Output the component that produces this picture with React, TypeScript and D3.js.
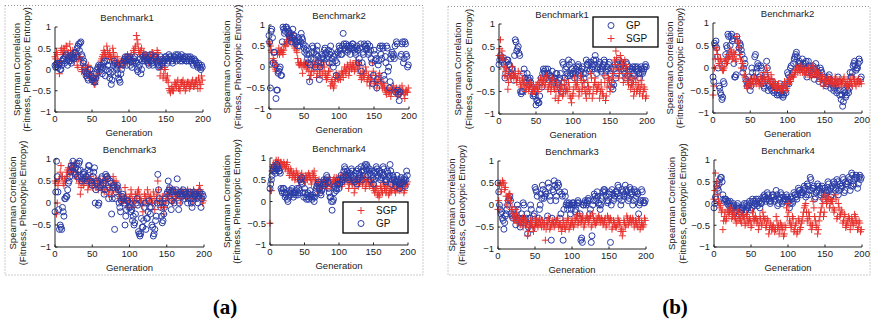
import React from "react";
import * as d3 from "d3";

// ---------- DATA ----------
const generations = d3.range(0, 200);
const xTicks = [0, 50, 100, 150, 200];
const yTicks = [-1, -0.5, 0, 0.5, 1];
const benchmarkTitles = ["Benchmark1", "Benchmark2", "Benchmark3", "Benchmark4"];
const seriesNames = ["GP", "SGP"];
const groupLabels = ["(a)", "(b)"];
const yLabelLine1 = "Spearman Correlation";
const yLabelPheno = "(Fitness, Phenotypic Entropy)";
const yLabelGeno = "(Fitness, Genotypic Entropy)";
const xLabel = "Generation";

// (a) Phenotypic entropy
const phenoB1GP = [
  0.1, 0.05, 0.12, 0.15, 0.05, 0.1, 0.15, 0.0, 0.0, 0.1, 0.2, 0.25, 0.25, 0.15, 0.3, 0.35, 0.2, 0.1, 0.28, 0.2,
  0.3, 0.2, 0.15, 0.25, 0.35, 0.3, 0.25, 0.4, 0.4, 0.3, 0.5, 0.55, 0.6, 0.45, 0.62, 0.65, 0.35, 0.3, 0.15, 0.2,
  0.05, -0.05, -0.15, -0.1, -0.2, -0.25, -0.1, 0.0, 0.0, -0.15, -0.25, -0.2, -0.2, -0.28, -0.3, -0.2, -0.1, 0.0, 0.05, 0.1,
  -0.05, 0.05, 0.1, 0.0, -0.1, 0.05, 0.15, 0.2, -0.15, 0.0, 0.2, 0.1, 0.1, -0.05, -0.2, -0.1, -0.35, -0.25, -0.05, 0.1,
  0.2, 0.15, 0.05, 0.0, 0.1, -0.1, -0.2, -0.25, -0.3, -0.1, 0.0, 0.15, 0.1, 0.2, 0.25, 0.3, 0.2, 0.1, 0.3, 0.25,
  0.25, 0.3, 0.1, 0.2, 0.05, 0.15, 0.2, 0.25, 0.3, 0.2, 0.15, 0.0, -0.05, 0.05, 0.1, 0.25, -0.1, 0.0, 0.2, 0.3,
  0.25, 0.2, 0.35, 0.3, 0.2, 0.25, 0.15, 0.1, 0.3, 0.35, 0.2, 0.15, 0.1, 0.2, 0.25, 0.3, 0.3, 0.2, 0.15, 0.1,
  0.05, 0.1, 0.2, 0.3, 0.1, 0.15, 0.25, 0.2, 0.2, 0.3, 0.3, 0.25, 0.15, 0.2, 0.35, 0.3, 0.3, 0.25, 0.2, 0.15,
  0.25, 0.3, 0.3, 0.35, 0.2, 0.25, 0.35, 0.3, 0.25, 0.2, 0.3, 0.35, 0.2, 0.25, 0.25, 0.3, 0.3, 0.2, 0.2, 0.25,
  0.3, 0.2, 0.25, 0.3, 0.2, 0.25, 0.15, 0.1, 0.25, 0.2, 0.2, 0.15, 0.1, 0.05, 0.15, 0.1, 0.05, 0.0, 0.1, 0.05,
];
const phenoB1SGP = [
  0.3, 0.25, 0.4, 0.35, 0.2, 0.1, -0.1, 0.2, 0.45, 0.5, 0.35, 0.4, 0.5, 0.45, 0.3, 0.55, 0.55, 0.35, 0.4, 0.3,
  0.6, 0.45, 0.3, 0.35, 0.45, 0.4, 0.2, 0.3, 0.35, 0.25, 0.1, 0.05, 0.25, 0.3, 0.3, 0.2, -0.05, 0.0, 0.1, -0.05,
  -0.1, 0.05, 0.0, -0.1, 0.05, 0.1, -0.15, -0.1, -0.05, -0.2, -0.2, -0.25, -0.3, -0.35, -0.35, -0.25, -0.2, -0.15, -0.1, 0.0,
  0.0, 0.1, 0.2, 0.25, 0.3, 0.35, 0.45, 0.4, 0.35, 0.3, 0.55, 0.45, 0.3, 0.35, 0.4, 0.3, 0.25, 0.3, 0.5, 0.4,
  0.2, 0.3, 0.1, 0.15, 0.3, 0.2, 0.15, 0.1, 0.05, 0.15, 0.2, 0.25, 0.1, 0.2, 0.15, 0.25, 0.3, 0.2, 0.35, 0.3,
  0.2, 0.25, 0.3, 0.35, 0.25, 0.2, 0.45, 0.4, 0.5, 0.55, 0.8, 0.7, 0.6, 0.45, 0.35, 0.4, 0.45, 0.5, 0.3, 0.35,
  0.4, 0.3, 0.2, 0.35, 0.3, 0.25, 0.15, 0.2, 0.35, 0.3, 0.25, 0.4, 0.4, 0.35, 0.3, 0.25, 0.2, 0.3, 0.45, 0.4,
  0.3, 0.2, -0.15, 0.0, 0.2, 0.1, -0.2, -0.1, 0.05, 0.0, -0.2, -0.25, -0.15, -0.3, -0.45, -0.5, -0.55, -0.45, -0.4, -0.5,
  -0.5, -0.4, -0.3, -0.35, -0.4, -0.3, -0.25, -0.45, -0.45, -0.5, -0.35, -0.3, -0.3, -0.25, -0.4, -0.35, -0.5, -0.45, -0.35, -0.3,
  -0.3, -0.35, -0.45, -0.4, -0.35, -0.3, -0.25, -0.4, -0.4, -0.35, -0.3, -0.25, -0.35, -0.45, -0.2, -0.3, -0.45, -0.35, -0.15, -0.25,
];
const phenoB2GP = [
  0.75, 0.6, -0.5, 0.85, 0.9, 0.7, 0.1, 0.35, 0.35, 0.05, -0.75, -0.55, -0.55, -0.15, -0.1, -0.05, 0.0, -0.2, -0.2, 0.6,
  0.95, 0.9, 0.8, 0.85, 0.95, 0.95, 0.9, 0.8, 0.85, 0.75, 0.7, 0.8, 0.6, 0.7, 0.9, 0.75, 0.75, 0.65, 0.55, 0.6,
  0.6, 0.5, 0.7, 0.65, 0.5, 0.6, 0.8, 0.7, 0.65, 0.55, 0.45, 0.35, 0.5, 0.4, 0.3, 0.2, 0.1, 0.3, -0.35, 0.05,
  0.2, 0.35, 0.5, 0.45, 0.35, 0.2, 0.0, 0.3, 0.4, 0.5, 0.25, 0.15, -0.3, 0.0, 0.1, 0.2, 0.3, 0.25, 0.2, 0.4,
  0.45, 0.3, 0.35, 0.2, 0.25, 0.4, 0.1, 0.3, 0.5, 0.35, 0.2, 0.1, 0.0, 0.25, 0.3, 0.15, -0.2, 0.1, 0.35, 0.3,
  0.5, 0.45, 0.4, 0.3, 0.3, 0.5, 0.8, 0.55, 0.45, 0.4, 0.55, 0.5, 0.35, 0.4, 0.5, 0.45, 0.3, 0.5, 0.45, 0.55,
  0.55, 0.45, 0.4, 0.35, 0.3, 0.45, 0.5, 0.4, 0.1, 0.2, 0.45, 0.55, -0.1, 0.1, 0.35, 0.3, 0.55, 0.5, 0.5, 0.4,
  0.45, 0.55, 0.3, 0.35, 0.5, 0.4, 0.2, 0.1, -0.4, -0.2, 0.4, 0.3, 0.15, 0.2, -0.5, -0.3, 0.05, 0.15, 0.45, 0.5,
  0.3, 0.2, 0.5, 0.45, -0.2, -0.3, 0.25, 0.1, 0.5, 0.45, -0.1, 0.0, -0.5, -0.35, 0.2, 0.3, 0.35, 0.25, 0.3, 0.2,
  0.5, -0.6, 0.6, 0.55, -0.55, -0.65, -0.8, -0.6, 0.25, 0.3, 0.55, 0.6, 0.1, 0.2, 0.6, 0.55, 0.3, 0.25, 0.0, 0.05,
];
const phenoB2SGP = [
  0.6, 0.55, 0.5, 0.4, 0.35, 0.1, 0.2, 0.15, 0.0, -0.05, -0.1, 0.05, 0.3, 0.35, 0.45, 0.3, 0.35, 0.4, 0.4, 0.35,
  0.3, 0.4, 0.55, 0.5, 0.5, 0.6, 0.65, 0.55, 0.75, 0.7, 0.6, 0.65, 0.8, 0.75, 0.7, 0.6, 0.5, 0.45, 0.55, 0.4,
  0.35, 0.2, 0.1, 0.05, 0.05, 0.1, 0.1, 0.0, -0.15, 0.05, 0.1, 0.05, 0.05, 0.1, -0.05, 0.0, 0.1, -0.1, -0.3, -0.2,
  -0.2, -0.1, 0.05, 0.0, -0.1, 0.05, 0.1, 0.0, -0.25, -0.15, 0.15, 0.05, -0.1, -0.2, 0.0, 0.05, -0.2, -0.1, 0.1, 0.0,
  -0.15, -0.2, -0.3, -0.25, -0.2, -0.1, 0.05, -0.1, -0.45, -0.35, -0.3, -0.4, -0.5, -0.45, -0.35, -0.25, -0.15, -0.2, -0.25, -0.3,
  -0.2, -0.25, -0.3, -0.2, -0.1, -0.15, -0.25, -0.1, 0.0, -0.1, -0.15, -0.05, 0.05, 0.0, -0.2, -0.1, 0.1, 0.0, -0.05, 0.05,
  0.0, 0.05, -0.1, -0.05, 0.15, 0.1, -0.05, 0.0, 0.1, 0.05, -0.2, -0.15, -0.3, -0.25, -0.1, -0.2, -0.25, -0.15, 0.0, -0.1,
  -0.35, -0.3, -0.2, -0.25, -0.45, -0.35, -0.3, -0.2, 0.1, -0.1, -0.4, -0.35, -0.2, -0.3, -0.5, -0.4, -0.3, -0.2, -0.15, -0.3,
  -0.35, -0.4, -0.5, -0.45, -0.4, -0.5, -0.55, -0.6, -0.65, -0.55, -0.5, -0.6, -0.6, -0.55, -0.7, -0.6, -0.55, -0.5, -0.45, -0.55,
  -0.6, -0.55, -0.5, -0.65, -0.7, -0.6, -0.55, -0.5, -0.65, -0.6, -0.45, -0.55, -0.6, -0.65, -0.75, -0.6, -0.55, -0.6, -0.6, -0.5,
];
const phenoB3GP = [
  -0.2, 0.25, 0.95, 0.6, 0.25, -0.15, -0.6, -0.5, -0.55, -0.6, -0.1, -0.2, -0.3, 0.1, 0.1, 0.15, 0.15, 0.3, 0.45, 0.5,
  0.6, 0.7, 0.85, 0.8, 0.95, 0.85, 0.7, 0.65, 0.8, 0.9, 0.6, 0.75, 0.9, 0.95, 0.75, 0.6, 0.5, 0.55, 0.65, 0.7,
  0.55, 0.6, 0.6, 0.5, 0.75, 0.85, 0.85, 0.7, 0.5, 0.45, 0.4, 0.6, 0.7, 0.8, 0.0, 0.3, 0.45, 0.5, -0.05, 0.0,
  0.35, 0.4, 0.55, 0.6, 0.4, 0.45, 0.2, 0.3, 0.65, 0.6, 0.6, 0.55, 0.1, 0.35, 0.5, 0.45, -0.25, 0.1, 0.35, 0.4,
  -0.6, 0.1, 0.25, 0.35, 0.4, 0.3, 0.0, -0.1, -0.2, 0.05, 0.15, 0.2, 0.1, 0.0, -0.5, -0.3, -0.15, 0.05, 0.05, -0.1,
  0.0, -0.1, -0.2, -0.15, -0.4, -0.3, -0.5, -0.45, -0.25, 0.0, 0.1, -0.05, -0.65, -0.7, -0.75, -0.7, -0.35, -0.55, -0.55, -0.4,
  -0.1, 0.0, -0.6, -0.35, -0.35, -0.2, 0.05, -0.1, -0.25, -0.1, -0.5, -0.55, -0.75, -0.7, -0.6, -0.4, -0.3, 0.0, 0.65, 0.3,
  0.1, 0.0, -0.1, -0.3, -0.45, -0.4, -0.25, -0.1, 0.1, 0.0, 0.2, 0.25, 0.5, 0.3, 0.35, 0.25, -0.15, 0.05, 0.3, 0.25,
  0.0, 0.15, 0.25, 0.3, 0.55, 0.2, -0.15, 0.0, 0.2, 0.25, 0.15, 0.2, 0.3, 0.25, 0.1, 0.2, 0.25, 0.15, 0.0, 0.1,
  0.2, 0.25, 0.1, 0.0, -0.1, 0.1, 0.25, 0.2, 0.15, 0.2, 0.2, 0.1, 0.0, 0.15, 0.25, 0.2, -0.1, 0.1, 0.2, 0.15,
];
const phenoB3SGP = [
  0.5, 0.45, -0.25, 0.0, 0.4, 0.5, 0.55, 0.7, 0.85, 0.6, 0.6, 0.45, 0.4, 0.55, 0.5, 0.6, 0.7, 0.75, 0.8, 0.7,
  0.65, 0.75, 0.9, 0.8, 0.75, 0.7, 0.85, 0.9, 0.6, 0.55, 0.7, 0.65, 0.45, 0.5, 0.2, 0.35, 0.55, 0.5, 0.4, 0.45,
  0.5, 0.55, 0.6, 0.5, 0.3, 0.4, 0.45, 0.55, 0.6, 0.5, 0.35, 0.45, 0.5, 0.45, 0.4, 0.35, 0.55, 0.5, 0.3, 0.4,
  0.45, 0.5, 0.35, 0.3, 0.5, 0.45, 0.25, 0.3, 0.4, 0.5, 0.6, 0.55, 0.2, 0.3, 0.35, 0.4, 0.15, 0.25, 0.6, 0.5,
  0.45, 0.35, 0.5, 0.4, 0.3, 0.25, 0.2, 0.1, 0.1, 0.15, 0.0, 0.05, 0.05, 0.1, 0.35, 0.2, 0.1, 0.0, -0.1, 0.05,
  0.1, 0.15, 0.3, 0.2, 0.05, 0.0, -0.1, 0.05, 0.2, 0.1, 0.15, 0.25, 0.3, 0.2, 0.0, 0.1, 0.05, -0.05, -0.2, 0.0,
  0.2, 0.15, 0.1, 0.05, 0.3, 0.2, 0.0, 0.1, 0.15, 0.1, 0.05, 0.0, 0.25, 0.15, -0.15, 0.0, 0.1, 0.2, 0.5, 0.3,
  0.05, 0.1, -0.1, 0.0, 0.15, 0.1, -0.25, -0.1, 0.0, 0.05, 0.2, 0.15, 0.1, 0.2, 0.35, 0.25, 0.15, 0.1, 0.0, 0.05,
  0.3, 0.2, 0.1, 0.15, 0.2, 0.25, 0.25, 0.2, 0.0, 0.1, 0.3, 0.25, 0.15, 0.2, 0.2, 0.15, 0.1, 0.2, 0.3, 0.25,
  0.15, 0.2, 0.25, 0.2, 0.0, 0.1, 0.3, 0.25, 0.2, 0.15, 0.1, 0.2, 0.25, 0.3, 0.4, 0.3, 0.2, 0.1, 0.0, 0.05,
];
const phenoB4GP = [
  0.3, 0.4, 0.5, 0.6, 0.7, 0.75, 0.8, 0.7, 0.65, 0.75, 0.85, 0.8, 0.75, 0.7, 0.7, 0.65, 0.3, 0.25, 0.2, 0.3,
  0.3, 0.2, 0.1, 0.15, 0.2, 0.05, 0.0, 0.1, 0.25, 0.2, 0.15, 0.25, 0.3, 0.2, 0.1, 0.2, 0.2, 0.15, 0.25, 0.3,
  0.15, 0.2, 0.3, 0.25, 0.5, 0.45, 0.55, 0.4, 0.2, 0.1, 0.3, 0.2, 0.1, 0.05, 0.15, 0.2, 0.05, 0.1, 0.25, 0.15,
  0.1, 0.05, 0.15, 0.1, 0.0, 0.1, 0.2, 0.3, 0.35, 0.4, 0.45, 0.3, 0.3, 0.2, 0.15, 0.25, 0.3, 0.4, 0.5, 0.45,
  0.4, 0.5, 0.6, 0.55, 0.45, 0.3, 0.2, 0.1, 0.1, 0.0, -0.2, 0.0, 0.05, 0.2, 0.35, 0.3, 0.25, 0.3, 0.4, 0.5,
  0.3, 0.4, 0.5, 0.6, 0.45, 0.5, 0.55, 0.7, 0.8, 0.75, 0.6, 0.55, 0.7, 0.6, 0.5, 0.55, 0.65, 0.6, 0.75, 0.7,
  0.55, 0.6, 0.5, 0.45, 0.65, 0.7, 0.4, 0.5, 0.75, 0.65, 0.6, 0.55, 0.8, 0.7, 0.5, 0.6, 0.7, 0.8, 0.85, 0.75,
  0.85, 0.8, 0.6, 0.7, 0.75, 0.65, 0.5, 0.6, 0.7, 0.55, 0.4, 0.5, 0.65, 0.7, 0.8, 0.75, 0.55, 0.6, 0.7, 0.65,
  0.5, 0.55, 0.65, 0.6, 0.8, 0.75, 0.6, 0.5, 0.45, 0.5, 0.7, 0.65, 0.55, 0.6, 0.85, 0.7, 0.4, 0.5, 0.6, 0.55,
  0.5, 0.45, 0.35, 0.45, 0.6, 0.5, 0.45, 0.4, 0.3, 0.4, 0.55, 0.5, 0.4, 0.45, 0.5, 0.55, 0.35, 0.5, 0.7, 0.6,
];
const phenoB4SGP = [
  -0.5, 0.25, 0.25, 0.7, 0.8, 0.85, 0.75, 0.8, 0.9, 0.95, 0.85, 0.9, 0.95, 0.85, 0.8, 0.9, 0.9, 0.85, 0.85, 0.8,
  0.9, 0.85, 0.75, 0.8, 0.85, 0.9, 0.7, 0.75, 0.6, 0.65, 0.75, 0.7, 0.55, 0.6, 0.65, 0.6, 0.5, 0.55, 0.7, 0.65,
  0.6, 0.55, 0.45, 0.5, 0.5, 0.6, 0.65, 0.55, 0.55, 0.5, 0.45, 0.5, 0.6, 0.55, 0.5, 0.6, 0.65, 0.6, 0.55, 0.5,
  0.4, 0.5, 0.65, 0.6, 0.7, 0.55, 0.5, 0.45, 0.3, 0.4, 0.45, 0.5, 0.2, 0.3, 0.4, 0.45, 0.35, 0.4, 0.5, 0.45,
  0.45, 0.4, 0.3, 0.35, 0.5, 0.45, 0.55, 0.5, 0.35, 0.4, 0.4, 0.45, 0.5, 0.55, 0.45, 0.4, 0.55, 0.5, 0.4, 0.45,
  0.5, 0.45, 0.55, 0.6, 0.35, 0.4, 0.6, 0.55, 0.45, 0.5, 0.65, 0.6, 0.5, 0.45, 0.3, 0.4, 0.55, 0.5, 0.45, 0.4,
  0.4, 0.45, 0.2, 0.3, 0.5, 0.45, 0.55, 0.5, 0.35, 0.4, 0.45, 0.5, 0.6, 0.55, 0.4, 0.45, 0.5, 0.55, 0.3, 0.35,
  0.45, 0.5, 0.55, 0.45, 0.35, 0.4, 0.5, 0.45, 0.4, 0.35, 0.3, 0.25, 0.2, 0.3, 0.35, 0.3, 0.15, 0.2, 0.1, 0.15,
  0.35, 0.3, 0.25, 0.2, 0.45, 0.4, 0.3, 0.35, 0.2, 0.25, 0.4, 0.35, 0.15, 0.2, 0.3, 0.25, 0.25, 0.3, 0.45, 0.4,
  0.3, 0.25, 0.2, 0.3, 0.35, 0.3, 0.4, 0.35, 0.25, 0.3, 0.3, 0.35, 0.45, 0.4, 0.2, 0.25, 0.35, 0.4, 0.4, 0.45,
];

// (b) Genotypic entropy
const genoB1GP = [
  0.1, 0.2, 0.3, 0.25, 0.2, 0.15, 0.25, 0.1, -0.2, -0.1, 0.15, 0.2, 0.2, 0.1, 0.1, 0.05, -0.1, 0.0, 0.0, -0.15,
  -0.25, 0.3, 0.65, 0.6, 0.4, 0.45, 0.5, 0.35, 0.3, -0.5, -0.55, -0.5, -0.5, -0.1, 0.0, -0.2, -0.3, -0.25, -0.1, -0.2,
  -0.35, -0.25, -0.2, -0.3, -0.45, -0.4, -0.6, -0.55, -0.5, -0.6, -0.8, -0.7, -0.7, -0.75, -0.75, -0.6, -0.3, -0.2, -0.4, -0.1,
  0.0, -0.05, -0.1, 0.0, -0.2, -0.1, 0.0, -0.1, -0.25, -0.15, -0.15, -0.2, -0.05, -0.25, -0.3, -0.2, -0.2, -0.1, -0.1, -0.3,
  -0.35, -0.25, -0.2, -0.1, -0.5, -0.4, 0.15, 0.1, -0.3, -0.2, 0.0, 0.05, -0.1, -0.15, 0.2, 0.1, -0.15, -0.1, 0.15, 0.0,
  -0.1, -0.05, -0.2, -0.1, 0.0, 0.05, -0.05, 0.1, 0.05, -0.1, -0.15, -0.05, 0.0, 0.05, -0.1, -0.2, -0.35, -0.1, 0.2, 0.1,
  0.1, 0.15, -0.05, 0.0, 0.15, 0.1, 0.0, 0.05, 0.2, 0.1, 0.3, 0.2, -0.1, 0.0, 0.05, 0.1, 0.15, 0.0, -0.05, 0.05,
  0.0, 0.1, 0.2, 0.15, -0.15, -0.05, 0.05, 0.0, 0.1, 0.15, -0.1, 0.0, -0.4, -0.3, -0.45, -0.35, 0.0, 0.1, -0.2, -0.1,
  0.15, 0.1, 0.2, 0.05, 0.05, 0.0, 0.1, 0.15, 0.0, -0.05, -0.1, -0.2, 0.15, 0.1, -0.15, -0.05, 0.05, 0.0, -0.3, -0.2,
  0.0, 0.05, -0.1, -0.15, 0.05, 0.0, -0.05, 0.05, 0.0, -0.1, -0.2, -0.1, 0.05, 0.0, -0.1, -0.05, 0.0, 0.05, 0.1, 0.05,
];
const genoB1SGP = [
  0.3, 0.45, 0.65, 0.3, 0.4, 0.25, 0.2, 0.05, -0.15, -0.05, 0.0, -0.2, -0.45, -0.3, -0.1, -0.15, -0.2, -0.1, 0.05, -0.1,
  -0.2, -0.15, -0.1, -0.2, -0.3, -0.2, -0.05, -0.1, -0.25, -0.35, -0.4, -0.3, -0.2, -0.3, -0.3, -0.4, -0.5, -0.45, -0.35, -0.3,
  -0.45, -0.4, -0.3, -0.35, -0.55, -0.5, -0.4, -0.45, -0.5, -0.45, -0.35, -0.4, -0.45, -0.5, -0.3, -0.35, -0.2, -0.25, -0.4, -0.3,
  -0.25, -0.2, -0.35, -0.3, -0.15, -0.2, -0.45, -0.4, -0.3, -0.35, -0.5, -0.4, -0.2, -0.25, -0.4, -0.45, -0.65, -0.5, -0.3, -0.4,
  -0.7, -0.6, -0.5, -0.45, -0.35, -0.4, -0.6, -0.55, -0.25, -0.35, -0.5, -0.45, -0.45, -0.5, -0.3, -0.4, -0.6, -0.65, -0.75, -0.6,
  -0.55, -0.45, -0.2, -0.3, -0.4, -0.35, -0.3, -0.45, -0.6, -0.5, -0.15, -0.25, -0.5, -0.4, -0.25, -0.3, -0.45, -0.55, -0.65, -0.5,
  -0.3, -0.4, -0.55, -0.45, -0.1, -0.2, -0.65, -0.55, -0.4, -0.3, -0.2, -0.35, -0.5, -0.45, -0.35, -0.4, -0.65, -0.5, -0.3, -0.45,
  -0.55, -0.6, -0.15, -0.3, -0.7, -0.6, -0.4, -0.3, -0.2, -0.25, -0.5, -0.4, -0.3, -0.2, -0.1, 0.0, 0.2, 0.1, 0.4, 0.25,
  0.1, 0.0, -0.2, -0.1, 0.3, 0.2, 0.0, 0.1, -0.3, -0.2, 0.2, 0.1, 0.05, -0.1, -0.25, -0.35, -0.1, -0.2, -0.45, -0.35,
  -0.3, -0.4, -0.6, -0.5, -0.2, -0.3, -0.5, -0.45, -0.35, -0.4, -0.55, -0.45, -0.25, -0.35, -0.6, -0.5, -0.4, -0.45, -0.65, -0.6,
];
const genoB2GP = [
  -0.2, -0.3, 0.55, 0.5, 0.6, 0.45, 0.25, 0.0, -0.4, -0.45, -0.55, -0.6, -0.7, -0.65, -0.3, -0.35, 0.1, 0.3, 0.5, 0.45,
  0.75, 0.7, 0.3, 0.5, 0.7, 0.75, 0.6, 0.65, 0.1, -0.2, -0.2, -0.15, 0.7, 0.6, 0.35, 0.45, 0.55, 0.5, 0.4, 0.3,
  -0.1, 0.0, 0.2, 0.1, -0.25, -0.3, -0.4, -0.35, -0.2, -0.3, -0.5, -0.4, 0.0, -0.1, -0.3, -0.2, 0.25, 0.3, -0.1, 0.0,
  0.1, 0.05, -0.2, -0.25, 0.05, 0.0, -0.3, -0.35, -0.4, -0.45, -0.15, -0.2, 0.15, 0.0, -0.5, -0.4, -0.35, -0.3, -0.45, -0.5,
  -0.3, -0.4, -0.55, -0.5, -0.4, -0.45, -0.6, -0.55, -0.5, -0.6, -0.35, -0.45, -0.6, -0.55, -0.65, -0.6, -0.45, -0.5, -0.55, -0.35,
  -0.1, -0.15, -0.35, -0.2, 0.0, 0.05, -0.15, -0.1, 0.1, 0.2, 0.25, 0.3, 0.35, 0.25, 0.0, 0.1, 0.15, 0.1, 0.05, 0.0,
  0.2, 0.1, -0.05, 0.0, 0.1, 0.15, -0.2, -0.1, 0.15, 0.05, 0.0, -0.05, -0.1, -0.15, 0.05, 0.0, -0.25, -0.15, 0.1, 0.0,
  -0.15, -0.1, -0.3, -0.2, 0.0, -0.05, -0.1, -0.2, -0.35, -0.25, -0.2, -0.3, -0.4, -0.35, -0.3, -0.2, -0.15, -0.25, -0.45, -0.35,
  -0.3, -0.4, -0.5, -0.45, -0.35, -0.4, -0.55, -0.5, -0.2, -0.3, -0.6, -0.5, -0.7, -0.6, -0.85, -0.75, -0.5, -0.55, -0.65, -0.6,
  -0.4, -0.5, -0.55, -0.45, -0.1, -0.2, -0.2, -0.1, 0.05, 0.1, 0.15, 0.05, -0.05, 0.0, 0.0, 0.1, 0.2, 0.15, -0.25, -0.2,
];
const genoB2SGP = [
  -0.6, -0.4, 0.0, 0.2, 0.45, 0.4, 0.3, 0.2, 0.1, 0.05, 0.2, 0.15, 0.0, -0.05, -0.05, 0.0, 0.15, 0.2, 0.1, 0.2,
  0.3, 0.2, 0.25, 0.3, 0.4, 0.35, 0.2, 0.25, 0.35, 0.3, 0.15, 0.2, 0.7, 0.6, 0.55, 0.45, 0.3, 0.2, 0.0, 0.1,
  0.1, 0.0, -0.15, -0.2, -0.3, -0.4, -0.45, -0.4, -0.35, -0.3, -0.25, -0.35, -0.4, -0.3, -0.3, -0.25, -0.2, -0.3, -0.35, -0.3,
  -0.25, -0.3, -0.4, -0.35, -0.2, -0.25, -0.35, -0.3, -0.1, -0.2, -0.3, -0.25, 0.0, -0.1, -0.2, -0.25, -0.35, -0.3, -0.15, -0.25,
  -0.4, -0.35, -0.3, -0.4, -0.5, -0.45, -0.45, -0.4, -0.35, -0.45, -0.5, -0.45, -0.4, -0.5, -0.45, -0.4, -0.3, -0.35, -0.5, -0.45,
  -0.35, -0.3, -0.25, -0.3, -0.3, -0.2, -0.15, -0.2, -0.2, -0.15, -0.1, -0.05, 0.0, -0.05, -0.1, 0.0, -0.05, -0.1, 0.05, 0.0,
  -0.1, -0.05, 0.0, -0.1, -0.15, -0.1, -0.05, 0.0, 0.0, -0.05, -0.2, -0.15, -0.1, -0.15, 0.05, 0.0, -0.15, -0.1, -0.05, -0.1,
  -0.2, -0.15, -0.1, -0.2, -0.3, -0.25, -0.15, -0.2, -0.4, -0.3, -0.25, -0.3, -0.3, -0.35, -0.2, -0.25, -0.35, -0.3, -0.25, -0.3,
  -0.3, -0.35, -0.4, -0.3, -0.2, -0.25, -0.35, -0.3, -0.3, -0.35, -0.25, -0.3, -0.4, -0.35, -0.3, -0.25, -0.2, -0.3, -0.35, -0.4,
  -0.3, -0.35, -0.4, -0.3, -0.25, -0.3, -0.35, -0.4, -0.2, -0.25, -0.3, -0.35, -0.4, -0.3, -0.3, -0.25, -0.35, -0.3, -0.3, -0.35,
];
const genoB3GP = [
  0.5, 0.3, 0.0, -0.1, -0.2, -0.15, -0.3, -0.35, -0.55, -0.4, -0.25, -0.2, -0.1, 0.0, 0.1, 0.15, 0.2, 0.1, -0.2, -0.25,
  -0.3, -0.2, -0.1, -0.25, -0.45, -0.35, 0.0, -0.1, -0.35, -0.3, -0.5, -0.4, -0.2, -0.3, 0.05, 0.0, -0.4, -0.35, -0.3, -0.2,
  -0.65, -0.5, -0.45, -0.3, 0.0, -0.1, -0.55, -0.45, -0.25, -0.2, 0.4, 0.35, 0.3, 0.2, -0.4, -0.3, -0.1, 0.0, 0.25, 0.15,
  0.45, 0.35, 0.15, 0.2, 0.3, 0.25, -0.35, -0.25, 0.5, 0.4, 0.2, 0.1, -0.8, -0.3, 0.35, 0.3, 0.55, 0.45, 0.1, 0.2,
  0.4, 0.5, 0.45, 0.3, -0.3, -0.2, 0.25, 0.2, -0.8, -0.1, 0.3, 0.2, 0.0, 0.05, -0.1, 0.0, 0.05, 0.0, -0.2, -0.1,
  0.0, 0.05, 0.05, 0.0, -0.15, -0.1, 0.0, 0.05, 0.1, 0.05, -0.3, -0.2, -0.8, -0.75, -0.85, 0.0, 0.0, 0.05, 0.1, 0.0,
  0.05, 0.1, 0.15, 0.1, -0.2, -0.1, -0.85, -0.7, 0.0, 0.1, 0.25, 0.2, 0.1, 0.15, 0.3, 0.2, 0.05, 0.0, -0.1, 0.0,
  0.15, 0.2, 0.3, 0.35, 0.35, 0.3, 0.2, 0.1, 0.05, 0.1, 0.25, 0.3, -0.85, 0.0, 0.35, 0.25, 0.1, 0.15, 0.2, 0.3,
  0.3, 0.25, 0.45, 0.4, 0.15, 0.2, 0.0, 0.1, 0.35, 0.3, 0.2, 0.25, 0.45, 0.35, 0.3, 0.2, 0.1, 0.15, 0.4, 0.35,
  0.25, 0.3, 0.0, 0.1, 0.35, 0.3, 0.15, 0.2, 0.3, 0.25, -0.2, 0.0, 0.05, 0.1, 0.35, 0.3, 0.1, 0.05, 0.05, 0.1,
];
const genoB3SGP = [
  -0.1, 0.1, 0.45, 0.5, 0.3, 0.45, 0.55, 0.5, 0.5, 0.35, 0.4, 0.2, 0.0, 0.1, 0.2, 0.25, 0.25, 0.1, -0.1, -0.05,
  -0.2, -0.3, -0.35, -0.25, -0.1, -0.2, -0.4, -0.35, -0.3, -0.4, -0.45, -0.4, -0.35, -0.3, -0.5, -0.4, -0.3, -0.35, -0.4, -0.45,
  -0.7, -0.6, -0.5, -0.45, -0.35, -0.4, -0.45, -0.5, -0.6, -0.5, -0.3, -0.35, -0.4, -0.45, -0.5, -0.4, -0.3, -0.4, -0.45, -0.5,
  -0.35, -0.4, -0.5, -0.45, -0.8, -0.55, -0.4, -0.45, -0.3, -0.35, -0.55, -0.5, -0.45, -0.4, -0.35, -0.4, -0.5, -0.45, -0.4, -0.35,
  -0.3, -0.4, -0.5, -0.45, -0.45, -0.5, -0.6, -0.5, -0.35, -0.4, -0.5, -0.55, -0.4, -0.45, -0.3, -0.35, -0.55, -0.5, -0.45, -0.4,
  -0.35, -0.4, -0.5, -0.45, -0.3, -0.35, -0.25, -0.3, -0.45, -0.4, -0.2, -0.25, -0.4, -0.35, -0.3, -0.35, -0.5, -0.45, -0.35, -0.3,
  -0.25, -0.3, -0.4, -0.35, -0.3, -0.25, -0.5, -0.45, -0.2, -0.3, -0.35, -0.4, -0.45, -0.4, -0.3, -0.35, -0.25, -0.3, -0.4, -0.35,
  -0.3, -0.35, -0.45, -0.4, -0.35, -0.3, -0.5, -0.45, -0.25, -0.3, -0.4, -0.35, -0.3, -0.35, -0.55, -0.5, -0.35, -0.4, -0.45, -0.5,
  -0.5, -0.45, -0.3, -0.35, -0.4, -0.45, -0.6, -0.55, -0.7, -0.6, -0.35, -0.4, -0.5, -0.45, -0.25, -0.3, -0.45, -0.4, -0.35, -0.3,
  -0.4, -0.35, -0.3, -0.35, -0.5, -0.45, -0.35, -0.4, -0.45, -0.5, -0.3, -0.35, -0.55, -0.5, -0.4, -0.45, -0.5, -0.45, -0.3, -0.35,
];
const genoB4GP = [
  -0.1, 0.0, 0.15, 0.1, 0.4, 0.35, 0.3, 0.45, 0.55, 0.6, 0.6, 0.5, 0.2, 0.1, 0.05, 0.1, 0.1, 0.05, 0.0, 0.05,
  -0.05, 0.0, 0.05, -0.05, -0.15, -0.1, 0.0, -0.05, -0.2, -0.15, -0.1, -0.05, 0.0, -0.1, -0.25, -0.2, -0.1, -0.15, -0.15, -0.1,
  -0.05, 0.0, -0.2, -0.15, 0.0, -0.05, -0.1, -0.05, 0.05, 0.0, -0.15, -0.1, 0.1, 0.05, -0.05, 0.0, 0.05, 0.1, 0.0, -0.05,
  0.1, 0.05, -0.1, 0.0, 0.0, 0.05, 0.15, 0.1, 0.2, 0.15, 0.05, 0.1, 0.25, 0.2, 0.1, 0.05, 0.0, 0.05, 0.15, 0.2,
  0.2, 0.15, 0.05, 0.1, 0.3, 0.2, -0.05, 0.0, 0.1, 0.15, 0.25, 0.2, 0.0, 0.05, 0.15, 0.1, 0.05, 0.1, 0.2, 0.15,
  0.1, 0.05, -0.1, 0.0, 0.15, 0.1, 0.0, 0.05, 0.25, 0.2, 0.2, 0.15, 0.1, 0.2, 0.35, 0.3, 0.3, 0.25, 0.2, 0.25,
  0.25, 0.3, 0.4, 0.35, 0.15, 0.2, 0.45, 0.4, 0.2, 0.3, 0.6, 0.55, 0.3, 0.35, 0.35, 0.4, 0.1, 0.15, 0.25, 0.3,
  0.45, 0.4, 0.3, 0.35, 0.2, 0.25, 0.4, 0.35, 0.1, 0.2, 0.35, 0.3, 0.25, 0.3, 0.5, 0.45, 0.3, 0.35, 0.15, 0.2,
  0.4, 0.35, 0.5, 0.45, 0.3, 0.35, 0.55, 0.5, 0.2, 0.3, 0.45, 0.4, 0.35, 0.4, 0.6, 0.55, 0.25, 0.3, 0.5, 0.45,
  0.45, 0.5, 0.6, 0.55, 0.3, 0.4, 0.7, 0.65, 0.4, 0.45, 0.55, 0.6, 0.65, 0.6, 0.35, 0.45, 0.6, 0.65, 0.55, 0.6,
];
const genoB4SGP = [
  0.1, 0.3, 0.7, 0.5, 0.4, 0.2, 0.05, 0.0, -0.1, -0.05, -0.2, -0.15, -0.6, -0.4, -0.3, -0.2, -0.4, -0.35, -0.15, -0.2,
  -0.25, -0.2, -0.1, -0.15, -0.35, -0.3, -0.2, -0.25, -0.3, -0.35, -0.45, -0.4, -0.15, -0.2, -0.35, -0.3, -0.4, -0.45, -0.25, -0.3,
  -0.3, -0.35, -0.5, -0.45, -0.25, -0.3, -0.45, -0.4, -0.35, -0.4, -0.55, -0.5, -0.2, -0.3, -0.4, -0.35, -0.3, -0.35, -0.45, -0.4,
  -0.6, -0.5, -0.3, -0.35, -0.5, -0.45, -0.2, -0.3, -0.4, -0.35, -0.55, -0.5, -0.35, -0.4, -0.7, -0.6, -0.45, -0.5, -0.6, -0.55,
  -0.5, -0.55, -0.65, -0.6, -0.3, -0.4, -0.55, -0.5, -0.7, -0.6, -0.45, -0.5, -0.6, -0.55, -0.75, -0.7, -0.5, -0.55, -0.1, -0.3,
  0.0, -0.2, -0.4, -0.45, -0.55, -0.5, -0.3, -0.35, -0.65, -0.6, -0.5, -0.45, -0.7, -0.65, -0.35, -0.4, -0.6, -0.55, -0.45, -0.4,
  -0.3, -0.2, -0.1, -0.05, 0.0, -0.2, -0.4, -0.35, -0.2, -0.3, -0.5, -0.45, -0.6, -0.5, 0.05, -0.1, -0.3, -0.4, -0.55, -0.5,
  -0.7, -0.6, -0.4, -0.3, -0.2, -0.1, 0.1, 0.0, -0.3, -0.2, 0.2, 0.1, 0.0, 0.05, 0.15, 0.1, -0.1, 0.0, 0.1, 0.05,
  0.05, -0.1, -0.2, -0.15, 0.2, 0.1, -0.35, -0.3, 0.0, -0.1, -0.3, -0.25, -0.15, -0.2, -0.45, -0.4, -0.25, -0.3, -0.55, -0.5,
  -0.4, -0.45, -0.3, -0.35, -0.6, -0.5, -0.35, -0.4, -0.5, -0.45, -0.25, -0.3, -0.45, -0.4, -0.6, -0.55, -0.4, -0.45, -0.65, -0.6,
];

// ---------- LAYOUT / STYLE ----------
const W = 874;
const H = 321;
const FONT = "'Liberation Sans', Arial, Helvetica, sans-serif";
const BLUE = "#2a3ca6";
const RED = "#e8302c";
const AXIS = "#222";

type Legend = { x: number; y: number; w: number; h: number; order: string[] };
type PanelSpec = {
  title: string;
  gp: number[];
  sgp: number[];
  x0: number; x1: number; yt: number; yb: number;
  l1: number; l2: number;
  label2: string;
  gpOnTop: boolean;
  titleX?: number;
  legend?: Legend;
};

const panels: PanelSpec[] = [
  { title: benchmarkTitles[0], gp: phenoB1GP, sgp: phenoB1SGP, x0: 55, x1: 203, yt: 27, yb: 112, l1: -38, l2: -28, label2: yLabelPheno, gpOnTop: true, titleX: 127 },
  { title: benchmarkTitles[1], gp: phenoB2GP, sgp: phenoB2SGP, x0: 269, x1: 409, yt: 25, yb: 109, l1: -42, l2: -31, label2: yLabelPheno, gpOnTop: true },
  { title: benchmarkTitles[2], gp: phenoB3GP, sgp: phenoB3SGP, x0: 55, x1: 204, yt: 159, yb: 247, l1: -42, l2: -32, label2: yLabelPheno, gpOnTop: true },
  { title: benchmarkTitles[3], gp: phenoB4GP, sgp: phenoB4SGP, x0: 270, x1: 408, yt: 158, yb: 245, l1: -43, l2: -33, label2: yLabelPheno, gpOnTop: true,
    legend: { x: 343, y: 202, w: 65, h: 31, order: ["SGP", "GP"] } },
  { title: benchmarkTitles[0], gp: genoB1GP, sgp: genoB1SGP, x0: 499, x1: 647, yt: 24, yb: 114, l1: -41, l2: -30, label2: yLabelGeno, gpOnTop: false, titleX: 562,
    legend: { x: 593, y: 17, w: 65, h: 30, order: ["GP", "SGP"] } },
  { title: benchmarkTitles[1], gp: genoB2GP, sgp: genoB2SGP, x0: 713, x1: 862, yt: 23, yb: 113, l1: -43, l2: -33, label2: yLabelGeno, gpOnTop: false },
  { title: benchmarkTitles[2], gp: genoB3GP, sgp: genoB3SGP, x0: 498, x1: 646, yt: 161, yb: 249, l1: -46, l2: -36, label2: yLabelGeno, gpOnTop: false },
  { title: benchmarkTitles[3], gp: genoB4GP, sgp: genoB4SGP, x0: 714, x1: 862, yt: 160, yb: 247, l1: -42, l2: -31, label2: yLabelGeno, gpOnTop: false },
];

const fmt = (v: number) => (v < 0 ? "\u2212" + String(Math.abs(v)) : String(v));

function Plus({ x, y }: { x: number; y: number }) {
  return <path d={`M${x - 3.5},${y}h7M${x},${y - 3.5}v7`} stroke={RED} strokeWidth={1} fill="none" />;
}
function Ring({ x, y }: { x: number; y: number }) {
  return <circle cx={x} cy={y} r={3} stroke={BLUE} strokeWidth={1} fill="none" />;
}

function Panel({ p }: { p: PanelSpec }) {
  const xs = d3.scaleLinear().domain([0, 200]).range([p.x0, p.x1]);
  const ys = d3.scaleLinear().domain([-1, 1]).range([p.yb, p.yt]);
  const yMid = (p.yt + p.yb) / 2;
  const xMid = (p.x0 + p.x1) / 2;
  const gpMarks = p.gp.map((v, i) => <Ring key={"g" + i} x={xs(generations[i])} y={ys(v)} />);
  const sgpMarks = p.sgp.map((v, i) => <Plus key={"s" + i} x={xs(generations[i])} y={ys(v)} />);
  return (
    <g fontFamily={FONT}>
      {p.gpOnTop ? (<>{sgpMarks}{gpMarks}</>) : (<>{gpMarks}{sgpMarks}</>)}
      <line x1={p.x0} x2={p.x0} y1={p.yt} y2={p.yb} stroke={AXIS} strokeWidth={1} />
      <line x1={p.x0} x2={p.x1} y1={p.yb} y2={p.yb} stroke={AXIS} strokeWidth={1} />
      {yTicks.map((t) => (
        <g key={"y" + t}>
          <line x1={p.x0} x2={p.x0 + 2.5} y1={ys(t)} y2={ys(t)} stroke={AXIS} />
          <text x={p.x0 - 4} y={ys(t)} dy="0.35em" textAnchor="end" fontSize={9.5} fill="#222">{fmt(t)}</text>
        </g>
      ))}
      {xTicks.map((t) => (
        <g key={"x" + t}>
          <line x1={xs(t)} x2={xs(t)} y1={p.yb} y2={p.yb - 2.5} stroke={AXIS} />
          <text x={xs(t)} y={p.yb + 10} textAnchor="middle" fontSize={9.5} fill="#222">{fmt(t)}</text>
        </g>
      ))}
      <text x={p.titleX ?? xMid} y={p.yt - 6} textAnchor="middle" fontSize={9.5} fill="#222">{p.title}</text>
      <text x={xMid} y={p.yb + 23.5} textAnchor="middle" fontSize={9.5} fill="#222">{xLabel}</text>
      <text transform={`translate(${p.x0 + p.l1},${yMid}) rotate(-90)`} dy="0.35em" textAnchor="middle" fontSize={9.5} fill="#222">{yLabelLine1}</text>
      <text transform={`translate(${p.x0 + p.l2},${yMid}) rotate(-90)`} dy="0.35em" textAnchor="middle" fontSize={9.5} fill="#222">{p.label2}</text>
      {p.legend && (
        <g>
          <rect x={p.legend.x} y={p.legend.y} width={p.legend.w} height={p.legend.h} fill="#fff" stroke="#000" strokeWidth={1.3} />
          {p.legend.order.map((name, i) => {
            const cy = p.legend!.y + 8.5 + i * 13;
            const mx = p.legend!.x + 18;
            return (
              <g key={name}>
                {name === seriesNames[0] ? <Ring x={mx} y={cy} /> : <Plus x={mx} y={cy} />}
                <text x={mx + 15} y={cy} dy="0.35em" fontSize={10} fill="#111">{name}</text>
              </g>
            );
          })}
        </g>
      )}
    </g>
  );
}

export default function App() {
  return (
    <svg width={W} height={H} style={{ position: "absolute", left: 0, top: 0, background: "#fff" }}>
      <rect x={0} y={0} width={W} height={H} fill="#fff" />
      <rect x={5} y={5.5} width={418} height={269.5} fill="none" stroke="#999" strokeWidth={1} strokeDasharray="1,2" />
      <rect x={448} y={6.5} width={422} height={268.5} fill="none" stroke="#999" strokeWidth={1} strokeDasharray="1,2" />
      {panels.map((p, i) => <Panel key={i} p={p} />)}
      <text x={225} y={314} textAnchor="middle" fontFamily="'Liberation Serif', 'Times New Roman', serif" fontWeight="bold" fontSize={21}>{groupLabels[0]}</text>
      <text x={675} y={314} textAnchor="middle" fontFamily="'Liberation Serif', 'Times New Roman', serif" fontWeight="bold" fontSize={21}>{groupLabels[1]}</text>
    </svg>
  );
}
